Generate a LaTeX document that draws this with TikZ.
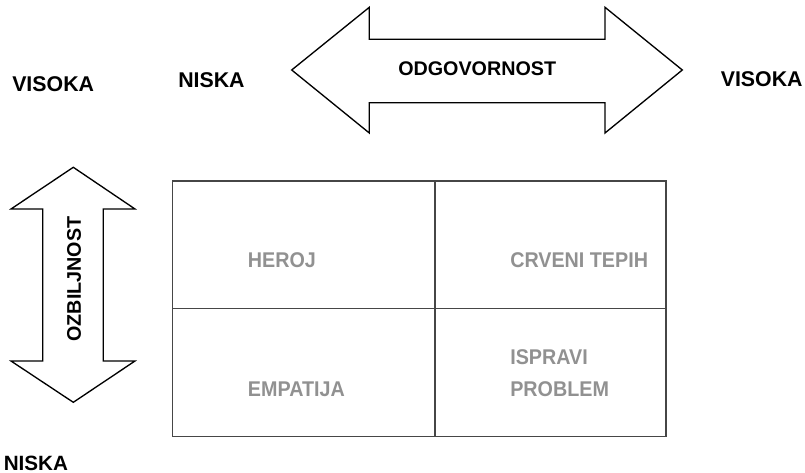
\documentclass[tikz,border=0pt]{standalone}
\usepackage{fontspec}
\setmainfont{Liberation Sans}
\definecolor{celltext}{RGB}{145,145,145}
\definecolor{gridline}{RGB}{70,70,70}
\begin{document}
\begin{tikzpicture}[x=0.75pt,y=-0.75pt,
  bigarrow/.style={draw=black,line width=1pt,line join=miter,fill=white},
  axislabel/.style={font=\bfseries\fontsize{16}{19}\selectfont,inner sep=0pt,anchor=base west},
  arrowtext/.style={font=\bfseries\fontsize{14.8}{17}\selectfont,inner sep=0pt},
  celllabel/.style={font=\bfseries\fontsize{14.8}{18}\selectfont,text=celltext,inner sep=0pt,anchor=base west,yscale=1.08},
  gridstyle/.style={draw=gridline,line width=0.8pt}]
\useasboundingbox (0,0) rectangle (805,473);

% horizontal double arrow
\draw[bigarrow] (291.7,70) -- (369.3,7.3) -- (369.3,39.3) -- (605,39.3) -- (605,7.3)
  -- (682.3,70) -- (605,133) -- (605,102.7) -- (369.3,102.7) -- (369.3,133) -- cycle;
\node[arrowtext,anchor=base] (odg) at (477.2,76) {ODGOVORNOST};

% vertical double arrow
\draw[bigarrow] (73.3,167.3) -- (135,209) -- (103.3,209) -- (103.3,361) -- (135,361)
  -- (73.3,402.3) -- (11,361) -- (42.7,361) -- (42.7,209) -- (11,209) -- cycle;
\node[arrowtext,rotate=90] (ozb) at (74,279) {OZBILJNOST};

% axis labels
\node[axislabel] (visokaL) at (12,91.7) {VISOKA};
\node[axislabel] (niskaT) at (178,87.3) {NISKA};
\node[axislabel] (visokaR) at (720.5,86.7) {VISOKA};
\node[axislabel,font=\bfseries\fontsize{15.5}{18}\selectfont] (niskaB) at (3.5,470.5) {NISKA};

% grid
\draw[gridstyle] (172.7,181) rectangle (666,436.7);
\draw[gridstyle] (435,181) -- (435,436.7);
\draw[gridstyle] (172.7,308.7) -- (666,308.7);

% cell labels
\node[celllabel] (heroj) at (247.7,267.3) {HEROJ};
\node[celllabel] (crveni) at (510,267.3) {CRVENI TEPIH};
\node[celllabel] (empatija) at (247.7,396.7) {EMPATIJA};
\node[celllabel] (ispravi) at (510,364) {ISPRAVI};
\node[celllabel] (problem) at (510,396.7) {PROBLEM};
\end{tikzpicture}
\end{document}
